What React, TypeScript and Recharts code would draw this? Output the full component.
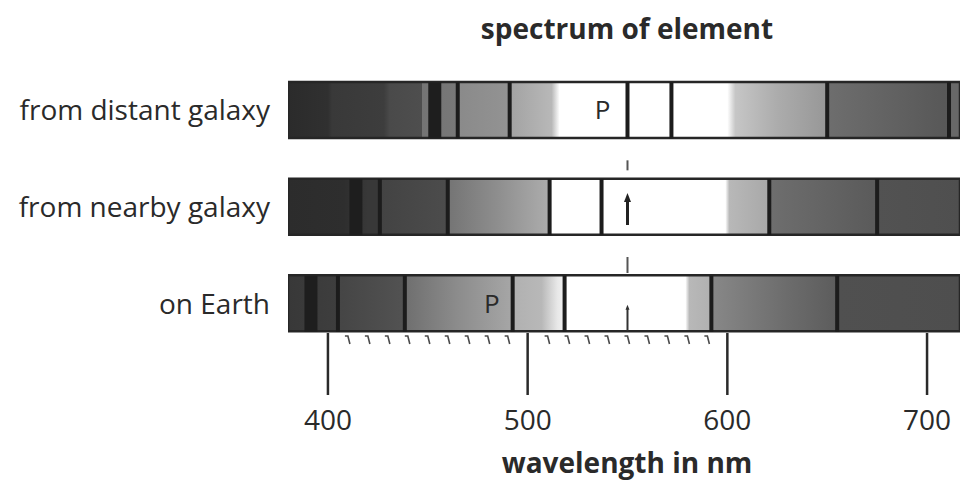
import { ComposedChart, Bar, Cell, Scatter, XAxis, YAxis } from "recharts";

const rowNames = ["from distant galaxy", "from nearby galaxy", "on Earth"];
const spanNm: [number, number] = [380, 716.5];
const majorTicks = [400, 500, 600, 700];
const minorTicks = [410, 420, 430, 440, 450, 460, 470, 480, 490, 510, 520, 530, 540, 550, 560, 570, 580, 590];

// thin absorption lines, nm
const distantLines = [465, 491, 550, 572, 650, 711];
const nearbyLines = [426, 460, 511, 537, 621, 675];
const earthLines = [405, 438.5, 492.5, 518.5, 592, 655];

// broad dark bands, nm
const distantBands = [453.5];
const nearbyBands = [414];
const earthBands = [391.5];

// reference marker and "P" labels
const markerNm = 550;
const pLabelNm = [537.5, null, 482];

// grey level along each spectrum: [nm, colour]
const distantShade: [number, string][] = [
  [380, "#2b2b2b"], [400, "#303030"], [402, "#393939"], [428, "#3d3d3d"], [431, "#4a4a4a"],
  [447, "#4e4e4e"], [447, "#747474"], [465, "#787878"], [465, "#8a8a8a"], [491, "#939393"],
  [491, "#a2a2a2"], [512, "#b8b8b8"], [516, "#ffffff"], [600, "#ffffff"], [604, "#c6c6c6"],
  [625, "#acacac"], [650, "#979797"], [650, "#6e6e6e"], [690, "#5f5f5f"], [711, "#575757"],
  [711, "#686868"], [716.5, "#686868"],
];
const nearbyShade: [number, string][] = [
  [380, "#2c2c2c"], [408, "#2e2e2e"], [420, "#383838"], [426, "#383838"], [426, "#434343"],
  [460, "#4c4c4c"], [460, "#747474"], [485, "#8e8e8e"], [511, "#adadad"], [511, "#ffffff"],
  [599, "#ffffff"], [601, "#b8b8b8"], [621, "#a8a8a8"], [621, "#6e6e6e"], [675, "#5a5a5a"],
  [675, "#525252"], [716.5, "#4f4f4f"],
];
const earthShade: [number, string][] = [
  [380, "#383838"], [405, "#3e3e3e"], [405, "#454545"], [438, "#525252"], [438, "#6e6e6e"],
  [465, "#8c8c8c"], [492, "#a6a6a6"], [492, "#b0b0b0"], [507, "#b8b8b8"], [515, "#e8e8e8"],
  [519, "#f2f2f2"], [519, "#ffffff"], [579, "#ffffff"], [581, "#b8b8b8"], [592, "#b0b0b0"],
  [592, "#888888"], [630, "#6c6c6c"], [655, "#5c5c5c"], [655, "#505050"], [716.5, "#4e4e4e"],
];

const shades = [distantShade, nearbyShade, earthShade];
const lineSets = [distantLines, nearbyLines, earthLines];
const bandSets = [distantBands, nearbyBands, earthBands];

const FONT = "'Open Sans', sans-serif";
const INK = "#2a2a2a";

const barData = rowNames.map((row) => ({ row, span: spanNm }));
const lineData = rowNames.flatMap((row, i) => lineSets[i].map((nm) => ({ row, nm })));
const bandData = rowNames.flatMap((row, i) => bandSets[i].map((nm) => ({ row, nm })));
const markerData = rowNames.map((row, i) => ({ row, nm: markerNm, idx: i }));
const pData = rowNames
  .map((row, i) => ({ row, nm: pLabelNm[i] }))
  .filter((d) => d.nm !== null);
const allTicks = [...majorTicks, ...minorTicks].sort((a, b) => a - b);

const BAR_H = 56;

const RowTick = ({ x, y, payload }: any) => (
  <text x={x} y={y} dy={10} textAnchor="end" fontSize={28} fontFamily={FONT} fill={INK}>
    {payload.value}
  </text>
);

// long ticks with labels on the hundreds, small hooks in between
const WaveTick = ({ x, y, payload }: any) => {
  if (!majorTicks.includes(payload.value)) {
    return (
      <path
        d={`M${x - 3},${y - 16} L${x},${y - 16} L${x + 2},${y - 8}`}
        fill="none"
        stroke="#4a4a4a"
        strokeWidth={1.6}
      />
    );
  }
  return (
    <g>
      <line x1={x} x2={x} y1={y - 19} y2={y + 43} stroke={INK} strokeWidth={2.5} />
      <text x={x} y={y + 78} textAnchor="middle" fontSize={28} fontFamily={FONT} fill={INK}>
        {payload.value}
      </text>
    </g>
  );
};

const LineShape = ({ cx, cy }: any) => (
  <rect x={cx - 2} y={cy - BAR_H / 2} width={4} height={BAR_H} fill="#1c1c1c" />
);

const BandShape = ({ cx, cy }: any) => (
  <rect x={cx - 6.5} y={cy - BAR_H / 2} width={13} height={BAR_H} fill="#1e1e1e" />
);

const MarkerShape = ({ cx, cy, payload }: any) => {
  const idx = payload.idx;
  if (idx === 0) {
    return <line x1={cx} x2={cx} y1={cy + 50} y2={cy + 60} stroke="#555" strokeWidth={2} />;
  }
  if (idx === 1) {
    return (
      <g>
        <line x1={cx} x2={cx} y1={cy - 8} y2={cy + 18} stroke="#222" strokeWidth={3} />
        <path d={`M${cx - 3.5},${cy - 5} L${cx},${cy - 14} L${cx + 3.5},${cy - 5} Z`} fill="#222" />
        <line x1={cx} x2={cx} y1={cy + 50} y2={cy + 66} stroke="#555" strokeWidth={2} />
      </g>
    );
  }
  return (
    <g>
      <line x1={cx} x2={cx} y1={cy + 5} y2={cy + 27} stroke="#333" strokeWidth={2} />
      <path d={`M${cx - 2},${cy + 6} L${cx},${cy + 1} L${cx + 2},${cy + 6} Z`} fill="#333" />
    </g>
  );
};

const PShape = ({ cx, cy }: any) => (
  <text x={cx} y={cy + 9} textAnchor="middle" fontSize={26} fontFamily={FONT} fill={INK}>
    P
  </text>
);

export default function App() {
  const span = spanNm[1] - spanNm[0];
  return (
    <div style={{ position: "absolute", left: 0, top: 0, width: 960, height: 482, background: "#fff" }}>
      <div
        style={{
          position: "absolute",
          left: 427,
          top: 14,
          width: 400,
          textAlign: "center",
          fontFamily: FONT,
          fontWeight: 700,
          fontSize: 28,
          lineHeight: "28px",
          color: INK,
        }}
      >
        spectrum of element
      </div>
      <ComposedChart
        width={960}
        height={482}
        layout="vertical"
        data={barData}
        margin={{ top: 62, right: 0, bottom: 30, left: 0 }}
      >
        <defs>
          {shades.map((stops, i) => (
            <linearGradient key={i} id={`shade-${i}`} x1="0" y1="0" x2="1" y2="0">
              {stops.map(([nm, c], j) => (
                <stop key={j} offset={(nm - spanNm[0]) / span} stopColor={c} />
              ))}
            </linearGradient>
          ))}
        </defs>
        <XAxis
          type="number"
          dataKey="nm"
          domain={spanNm}
          allowDataOverflow
          ticks={allTicks}
          interval={0}
          height={100}
          axisLine={false}
          tickLine={false}
          tickSize={0}
          tickMargin={0}
          tick={<WaveTick />}
        />
        <YAxis
          type="category"
          dataKey="row"
          allowDuplicatedCategory={false}
          width={288}
          axisLine={false}
          tickLine={false}
          tickSize={0}
          tickMargin={18}
          tick={<RowTick />}
        />
        <Bar dataKey="span" barSize={BAR_H} stroke="#262626" strokeWidth={2.5} isAnimationActive={false}>
          {barData.map((_, i) => (
            <Cell key={i} fill={`url(#shade-${i})`} />
          ))}
        </Bar>
        <Scatter data={bandData} shape={<BandShape />} isAnimationActive={false} />
        <Scatter data={lineData} shape={<LineShape />} isAnimationActive={false} />
        <Scatter data={markerData} shape={<MarkerShape />} isAnimationActive={false} />
        <Scatter data={pData} shape={<PShape />} isAnimationActive={false} />
      </ComposedChart>
      <div
        style={{
          position: "absolute",
          left: 427,
          top: 448,
          width: 400,
          textAlign: "center",
          fontFamily: FONT,
          fontWeight: 700,
          fontSize: 28,
          lineHeight: "28px",
          color: INK,
        }}
      >
        wavelength in nm
      </div>
    </div>
  );
}
